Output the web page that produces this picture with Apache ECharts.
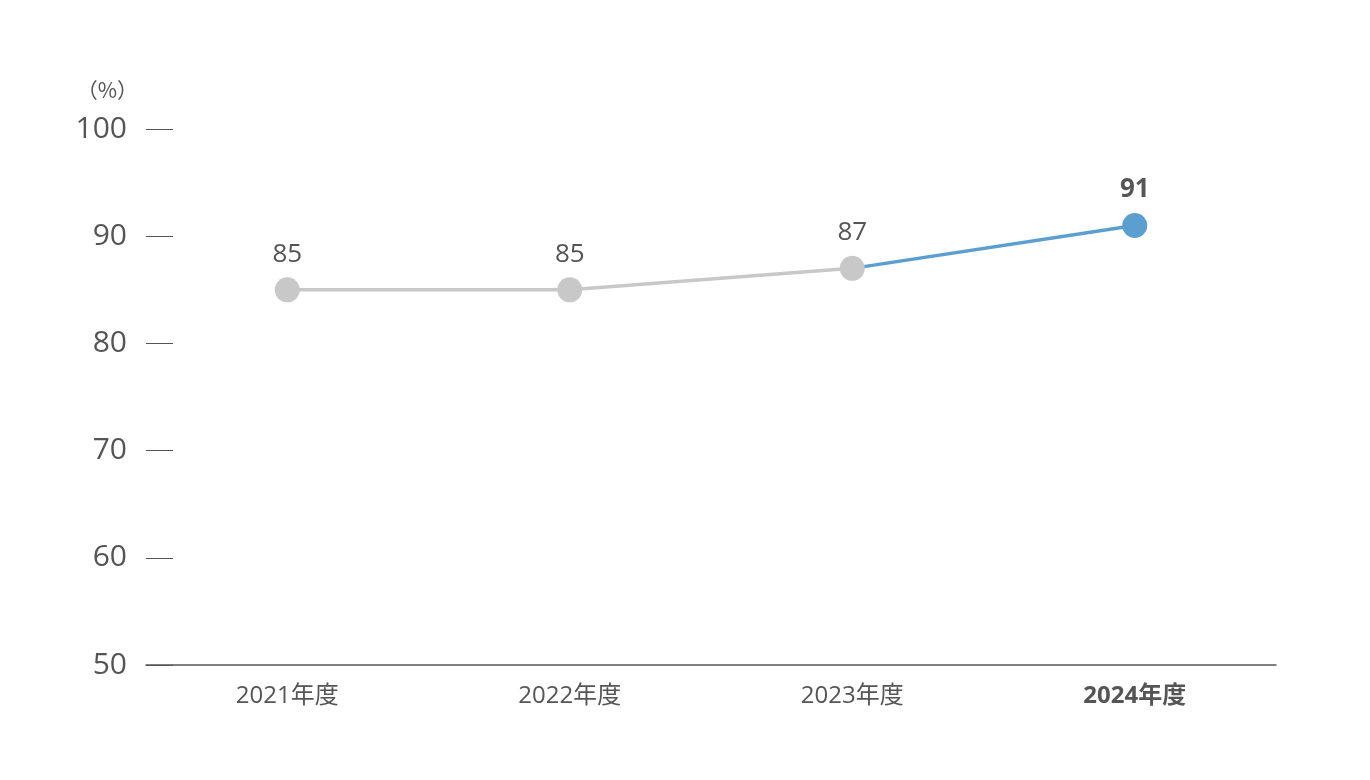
<!DOCTYPE html>
<html>
<head>
<meta charset="utf-8">
<script src="https://cdn.jsdelivr.net/npm/echarts@6/dist/echarts.min.js"></script>
<style>
  html, body { margin: 0; padding: 0; background: #fff; }
  #chart { width: 1370px; height: 780px; }
</style>
</head>
<body>
<div id="chart"></div>
<script>
let years = ['2021年度', '2022年度', '2023年度', '2024年度'];
let pastValues = [85, 85, 87, '-'];   // 灰色部分
let latestValues = ['-', '-', 87, 91]; // 青色部分
let yTicks = [50, 60, 70, 80, 90, 100];

let fontFamily = '"Open Sans", "Noto Sans CJK JP", sans-serif';
let textColor = '#555555';

let myChart = echarts.init(document.getElementById('chart'));

let option = {
    animation: false,
    textStyle: { fontFamily: fontFamily },
    grid: { left: 146, right: 94, top: 129, bottom: 115 },
    xAxis: {
        type: 'category',
        data: years,
        boundaryGap: true,
        axisLine: { lineStyle: { color: '#555555', width: 1.5 } },
        axisTick: { show: false },
        axisLabel: {
            margin: 19,
            fontSize: 24,
            color: textColor,
            fontFamily: fontFamily,
            formatter: function (v, i) {
                return i === years.length - 1 ? '{b|' + v + '}' : v;
            },
            rich: {
                b: { fontSize: 24, fontWeight: 'bold', color: textColor, fontFamily: fontFamily }
            }
        }
    },
    yAxis: {
        type: 'value',
        min: yTicks[0],
        max: yTicks[yTicks.length - 1],
        interval: 10,
        name: '（%）',
        nameLocation: 'end',
        nameGap: 28,
        nameTextStyle: {
            fontSize: 21,
            color: textColor,
            align: 'right',
            padding: [0, 8, 0, 0],
            fontFamily: '"Noto Sans CJK JP", sans-serif'
        },
        axisLine: { show: false },
        axisTick: {
            show: true,
            inside: true,
            length: 27,
            lineStyle: { color: '#555555', width: 1 }
        },
        splitLine: { show: false },
        axisLabel: {
            margin: 19,
            fontSize: 30,
            color: textColor,
            fontFamily: fontFamily
        }
    },
    series: [
        {
            name: 'latest',
            type: 'line',
            z: 2,
            data: latestValues.map(function (v, i) {
                if (i === latestValues.length - 1) return v;
                return { value: v, symbol: 'none' };
            }),
            symbol: 'circle',
            symbolSize: 25,
            lineStyle: { color: '#5b9fd1', width: 3.5 },
            itemStyle: { color: '#5b9fd1' },
            label: {
                show: true,
                position: 'top',
                distance: 10,
                fontSize: 26,
                fontWeight: 'bold',
                color: textColor,
                formatter: function (p) {
                    return p.dataIndex === latestValues.length - 1 ? p.value : '';
                }
            }
        },
        {
            name: 'past',
            type: 'line',
            z: 3,
            data: pastValues,
            symbol: 'circle',
            symbolSize: 25,
            lineStyle: { color: '#c8c8c8', width: 3.5 },
            itemStyle: { color: '#c8c8c8' },
            label: {
                show: true,
                position: 'top',
                distance: 10,
                fontSize: 26,
                color: textColor
            }
        }
    ]
};

myChart.setOption(option);
</script>
</body>
</html>
